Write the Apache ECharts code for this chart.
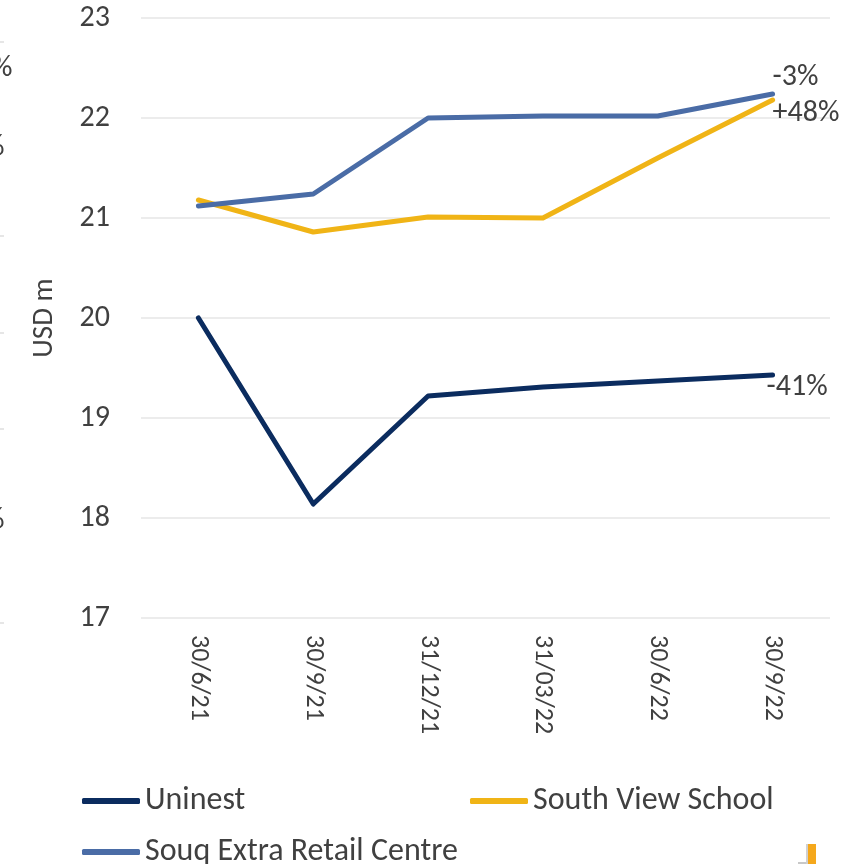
<!DOCTYPE html>
<html>
<head>
<meta charset="utf-8">
<script src="https://cdn.jsdelivr.net/npm/echarts@6/dist/echarts.min.js"></script>
<style>
  html, body { margin: 0; padding: 0; background: #fff; }
  #chart { width: 846px; height: 864px; }
</style>
</head>
<body>
<div id="chart"></div>
<script>
// 数据
const categories = ["30/6/21", "30/9/21", "31/12/21", "31/03/22", "30/6/22", "30/9/22"];
const uninest = [20.0, 18.14, 19.22, 19.31, 19.37, 19.43];
const southView = [21.18, 20.86, 21.01, 21.0, 21.6, 22.18];
const souqExtra = [21.12, 21.24, 22.0, 22.02, 22.02, 22.24];
const endLabels = ["-41%", "+48%", "-3%"];

const FONT = "Carlito, 'Open Sans', sans-serif";
const TXT = "#404040";

const chart = echarts.init(document.getElementById("chart"));

function mkSeries(name, data, color, label, offset) {
  return {
    name: name,
    type: "line",
    data: data,
    symbol: "none",
    lineStyle: { color: color, width: 5, cap: "round", join: "round" },
    itemStyle: { color: color },
    endLabel: {
      show: true,
      formatter: label,
      color: TXT,
      fontSize: 30,
      fontFamily: FONT,
      align: "left",
      offset: offset,
    },
    z: 3,
  };
}

const legendBase = {
  icon: "roundRect",
  itemWidth: 58,
  itemHeight: 6,
  textStyle: { color: TXT, fontSize: 32, fontFamily: FONT },
  selectedMode: false,
};

// 左侧被裁切的相邻图表残留
const pctMark = (x, y) => ({
  type: "text", x: x, y: y,
  style: { text: "%", fontSize: 30, fill: TXT, fontFamily: FONT },
});
const stub = (y) => ({
  type: "rect", shape: { x: 0, y: y, width: 4, height: 2 }, style: { fill: "#e6e6e6" },
});

const option = {
  backgroundColor: "#fff",
  animation: false,
  grid: { left: 141, right: 16, top: 18, bottom: 246 },
  xAxis: {
    type: "category",
    data: categories,
    boundaryGap: true,
    axisLine: { show: false },
    axisTick: { show: false },
    axisLabel: {
      rotate: -90,
      margin: 17,
      color: TXT,
      fontSize: 26,
      fontFamily: FONT,
    },
  },
  yAxis: {
    type: "value",
    min: 17,
    max: 23,
    interval: 1,
    name: "USD m",
    nameLocation: "middle",
    nameGap: 82,
    nameRotate: 90,
    nameTextStyle: { color: TXT, fontSize: 29, fontFamily: FONT },
    axisLine: { show: false },
    axisTick: { show: false },
    axisLabel: { margin: 31, color: TXT, fontSize: 30, fontFamily: FONT },
    splitLine: { lineStyle: { color: "#ececec", width: 2 } },
  },
  legend: [
    Object.assign({ data: ["Uninest"], left: 77, top: 780 }, legendBase),
    Object.assign({ data: ["South View School"], left: 465, top: 780 }, legendBase),
    Object.assign({ data: ["Souq Extra Retail Centre"], left: 77, top: 831 }, legendBase),
  ],
  series: [
    mkSeries("Uninest", uninest, "#0b2c5f", endLabels[0], [-14, 12]),
    mkSeries("South View School", southView, "#f0b416", endLabels[1], [-8, 13]),
    mkSeries("Souq Extra Retail Centre", souqExtra, "#4a6ca6", endLabels[2], [-8, -17]),
  ],
  graphic: [
    pctMark(-9, 53),
    pctMark(-17, 132),
    pctMark(-17, 505),
    stub(41), stub(235), stub(332), stub(428), stub(622),
    // 右下角残留
    { type: "rect", shape: { x: 798, y: 862, width: 10, height: 2 }, style: { fill: "#c8c8c8" } },
    { type: "rect", shape: { x: 806, y: 844, width: 2, height: 20 }, style: { fill: "#d0d0d0" } },
    { type: "rect", shape: { x: 808, y: 844, width: 8, height: 20 }, style: { fill: "#f5a81c" } },
  ],
};

chart.setOption(option);
</script>
</body>
</html>
